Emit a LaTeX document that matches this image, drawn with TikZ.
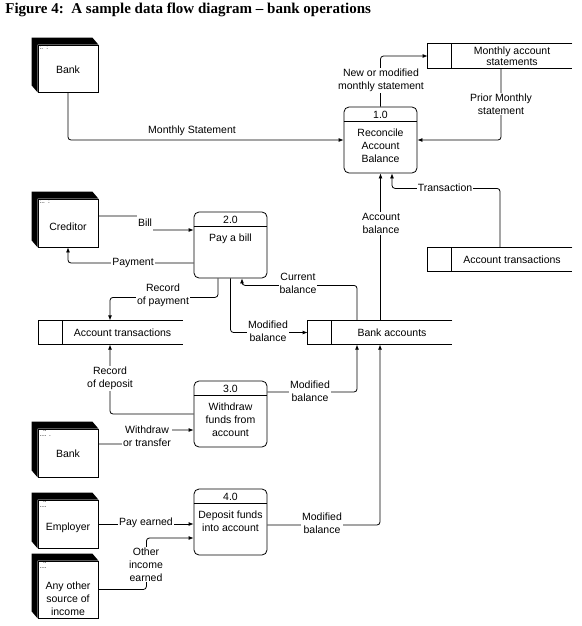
\documentclass[tikz,border=0pt]{standalone}
\usepackage{fontspec}
\setmainfont{Liberation Serif}
\setsansfont{Liberation Sans}
\usetikzlibrary{arrows.meta,positioning,calc}

\newcommand\lbl{\sffamily\fontsize{10.5}{13}\selectfont}
\newcommand\idfont{\sffamily\fontsize{6.5}{5}\selectfont}

% dark edge round an external entity
\newcommand\extent[1]{
\fill[black] (#1.south west) -- ([shift={(-6pt,7pt)}]#1.south west) -- ([shift={(-6pt,7pt)}]#1.north west) -- ([shift={(-6pt,7pt)}]#1.north east) -- (#1.north east) -- (#1.north west) -- cycle;}

% process box: name, position, number, text
\newcommand\process[4]{
\node[process] (#1) at (#2) {};
\draw ([yshift=-15pt]#1.north west) -- ([yshift=-15pt]#1.north east);
\node[font=\lbl, inner sep=0pt] (#1-id) at ([yshift=-8.5pt]#1.north) {#3};
\node[font=\lbl, align=center, inner sep=0pt, anchor=north] (#1-txt) at ([yshift=-22pt]#1.north) {#4};}

% open ended data store
\newcommand\store[1]{
\draw (#1.north east) -- ([xshift=-24pt]#1.north west) -- ([xshift=-24pt]#1.south west) -- (#1.south east);
\draw (#1.north west) -- (#1.south west);}

\tikzset{
entity/.style={draw, fill=white, minimum width=60pt, minimum height=#1, inner sep=0pt},
process/.style={draw, rounded corners=5pt, minimum width=73pt, minimum height=66pt, inner sep=0pt},
datastore/.style={minimum width=120pt, minimum height=23.5pt, inner sep=0pt, font=\lbl, align=center},
flow/.style={-{Latex[length=5pt,width=4pt]}, rounded corners=3pt},
flowlabel/.style={fill=white, inner sep=1pt, font=\lbl, align=center},
idmark/.style={font=\idfont, inner sep=1.5pt, anchor=north west, align=left},
entname/.style={font=\lbl, align=center}
}

\begin{document}
\begin{tikzpicture}[x=1pt,y=-1pt,line width=0.8pt]
\useasboundingbox (0,0) rectangle (581,626);
\node[anchor=west, font=\bfseries\fontsize{15}{17}\selectfont, inner sep=0pt] (title) at (5,10) {Figure 4:\ \ A sample data flow diagram – bank operations};

% external entities
\node[entity=47pt, label={[entname, yshift=-1.5pt]center:Bank}, label={[idmark]north west:{:.\enspace:}}] (bank1) at (68,68.5) {};
\node[entity=48pt, label={[entname, yshift=-4pt]center:Creditor}, label={[idmark]north west:{:..\enspace:}}] (cred) at (68,223) {};
\node[entity=48pt, label={[entname, yshift=-1pt]center:Bank}, label={[idmark]north west:{\ \ ..\\.... .}}] (bank2) at (68,453) {};
\node[entity=48pt, label={[entname, yshift=-4pt]center:Employer}, label={[idmark]north west:{\ \ ..\\....}}] (emp) at (68,524) {};
\node[entity=57pt, label={[entname, yshift=-9.5pt]center:Any other\\source of\\income}, label={[idmark]north west:{\ \ ..\\....}}] (other) at (68,589.5) {};
\extent{bank1}
\extent{cred}
\extent{bank2}
\extent{emp}
\extent{other}

% processes
\process{p1}{380.5,140}{1.0}{Reconcile\\Account\\Balance}
\process{p2}{230.5,245}{2.0}{Pay a bill}
\process{p3}{230.5,414}{3.0}{Withdraw\\funds from\\account}
\process{p4}{230.5,522}{4.0}{Deposit funds\\into account}

% data stores
\node[datastore] (mstm) at (512,56) {Monthly account\\[-2pt]statements};
\node[datastore] (acctR) at (512,259.5) {Account transactions};
\node[datastore] (acctL) at (122.5,332.5) {Account transactions};
\node[datastore] (bacc) at (392,332.5) {Bank accounts};
\store{mstm}
\store{acctR}
\store{acctL}
\store{bacc}
\coordinate (mstm-l) at ([xshift=-24pt]mstm.west);
\coordinate (bacc-l) at ([xshift=-24pt]bacc.west);

% data flows
\draw[flow] (bank1.south) |- (p1.west);
\draw[flow] (p1.north) |- (mstm-l);
\draw[flow] ([xshift=-11pt]mstm.south) |- (p1.east);
\draw[flow] ([xshift=-12pt]acctR.north) |- ([xshift=11.5pt,yshift=-15pt]p1.south) -- ([xshift=11.5pt]p1.south);
\draw[flow] (p1.south |- bacc.north) -- (p1.south);
\draw[flow] ([yshift=7pt]cred.east) -- ++(47,0) |- ([yshift=15pt]p2.west);
\draw[flow] ([yshift=-18pt]p2.west) -| (cred.south);
\draw[flow] ([xshift=-12.5pt]p2.south) -- ++(0,19) -| ([xshift=-12.5pt]acctL.north);
\draw[flow] ([xshift=-35pt]bacc.north) |- ([xshift=11.5pt,yshift=-7pt]p2.south) -- ([xshift=11.5pt]p2.south);
\draw[flow] (p2.south) |- (bacc-l);
\draw[flow] (p3.west) -| ([xshift=-12.5pt]acctL.south);
\draw[flow] ([yshift=9pt]bank2.east) -- ++(49,0) |- ([yshift=-16pt]p3.west);
\draw[flow] ([yshift=22pt]p3.east) -| ([xshift=-35pt]bacc.south);
\draw[flow] (emp.east) -- (emp.east -| p4.west);
\draw[flow] (other.east) -- ++(48,0) |- ([yshift=-16pt]p4.west);
\draw[flow] ([yshift=-3pt]p4.east) -| ([xshift=-12pt]bacc.south);

% flow labels
\node[flowlabel] (l-mstmt) at (192,131) {Monthly Statement};
\node[flowlabel] (l-newmod) at (381,80.5) {New or modified\\monthly statement};
\node[flowlabel] (l-prior) at (501,104) {Prior Monthly\\statement};
\node[flowlabel] (l-trans) at (445,188) {Transaction};
\node[flowlabel] (l-accbal) at (381,223.5) {Account\\balance};
\node[flowlabel, minimum height=17pt] (l-bill) at (145,223) {Bill};
\node[flowlabel] (l-pay) at (133,263) {Payment};
\node[flowlabel] (l-recpay) at (163,295.5) {Record\\of payment};
\node[flowlabel] (l-curbal) at (298,283.5) {Current\\balance};
\node[flowlabel] (l-mod1) at (268,331.5) {Modified\\balance};
\node[flowlabel] (l-recdep) at (110,378.5) {Record\\of deposit};
\node[flowlabel] (l-mod2) at (310,391.5) {Modified\\balance};
\node[flowlabel] (l-withdr) at (147,436.5) {Withdraw\\or transfer};
\node[flowlabel] (l-payearn) at (146,523) {Pay earned};
\node[flowlabel] (l-other) at (146,564.5) {Other\\income\\earned};
\node[flowlabel] (l-mod3) at (322,523.5) {Modified\\balance};
\end{tikzpicture}
\end{document}
